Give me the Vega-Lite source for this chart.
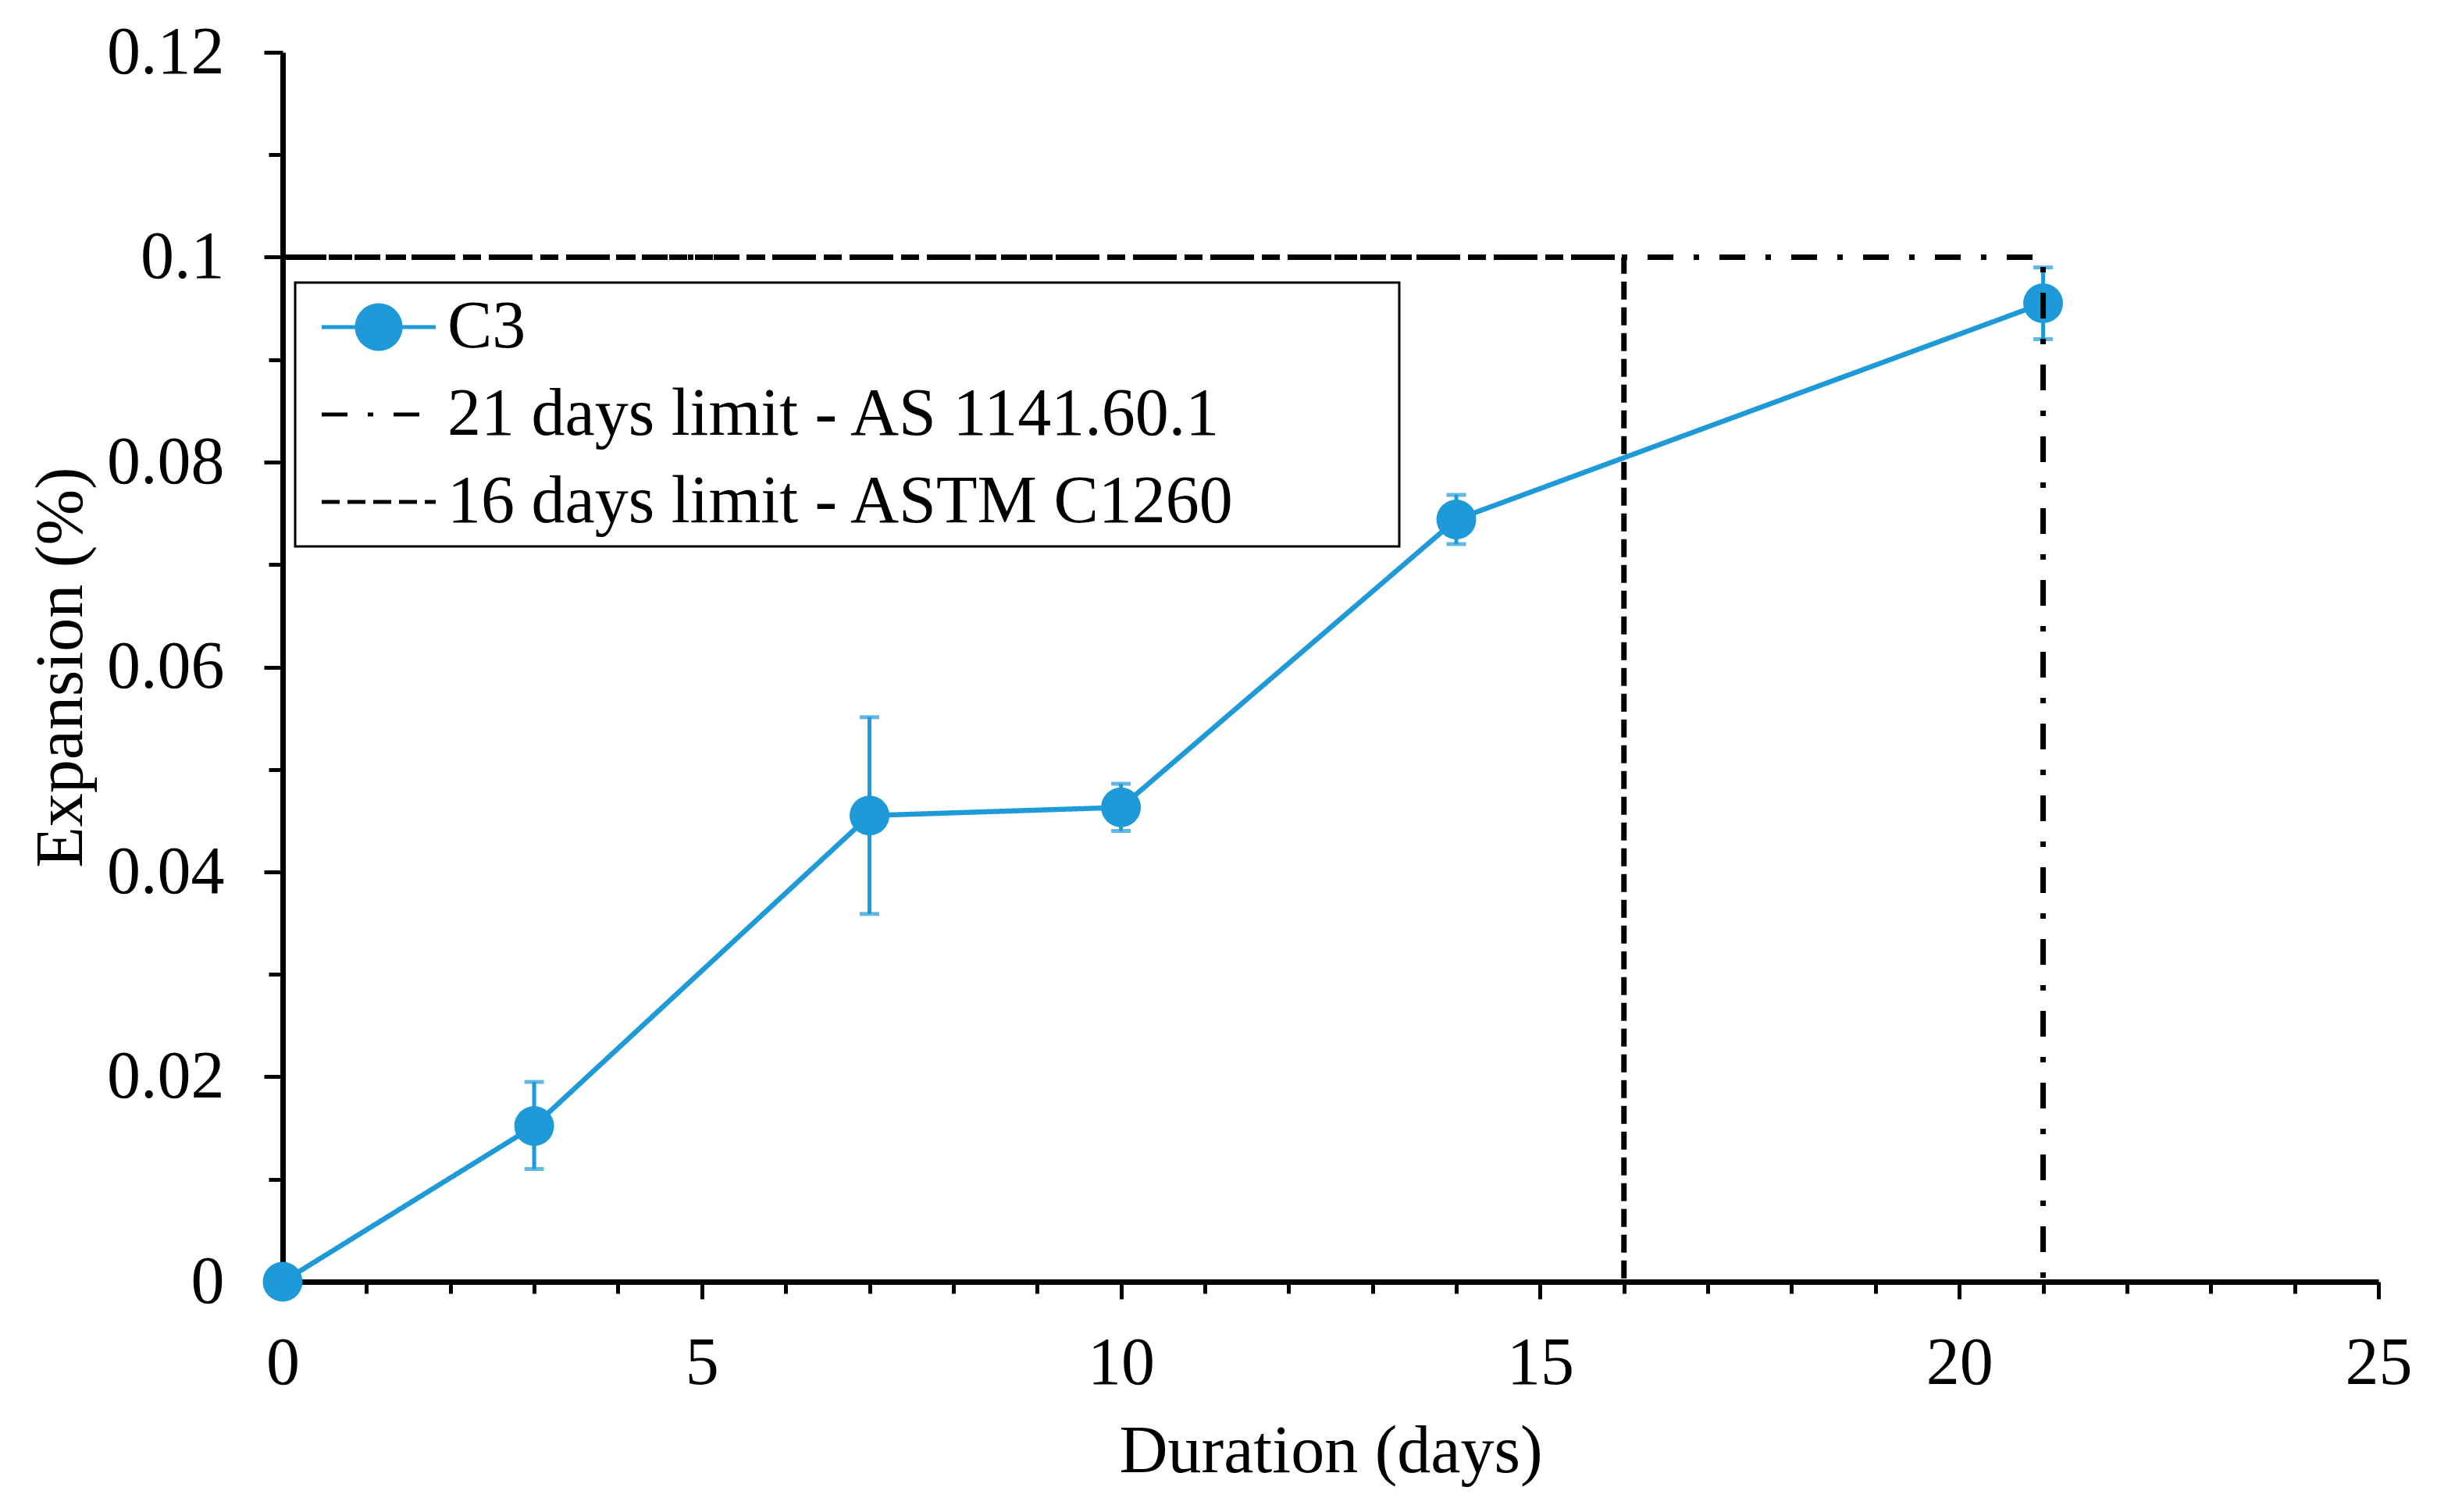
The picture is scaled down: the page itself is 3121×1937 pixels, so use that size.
{
  "$schema": "https://vega.github.io/schema/vega-lite/v6.json",
  "width": 2684,
  "height": 1575,
  "autosize": {"type": "none"},
  "padding": {"left": 362, "top": 67, "right": 75, "bottom": 295},
  "background": "white",
  "config": {
    "view": {"stroke": null},
    "axis": {
      "grid": false,
      "domainColor": "black",
      "domainWidth": 7,
      "tickColor": "black",
      "tickWidth": 5,
      "labelFont": "Liberation Serif",
      "labelFontSize": 86,
      "labelColor": "black",
      "titleFont": "Liberation Serif",
      "titleFontSize": 86,
      "titleFontWeight": "normal",
      "titleColor": "black",
      "labelOverlap": false,
      "labelFlush": false,
      "labelBound": false
    },
    "legend": {
      "orient": "none",
      "legendX": 16,
      "legendY": 295,
      "strokeColor": "black",
      "strokeWidth": 3,
      "fillColor": "white",
      "padding": 14,
      "labelFont": "Liberation Serif",
      "labelFontSize": 86,
      "labelColor": "black",
      "labelLimit": 3000,
      "labelOffset": 45,
      "symbolOffset": 50,
      "symbolSize": 6400,
      "symbolStrokeWidth": 5,
      "symbolType": "M-1.825,0H1.825",
      "rowPadding": 26
    }
  },
  "datasets": {
    "c3": [
      {"day": 0, "exp": 0, "lo": 0, "hi": 0, "series": "C3"},
      {"day": 3, "exp": 0.0152, "lo": 0.0110, "hi": 0.0195, "series": "C3"},
      {"day": 7, "exp": 0.0455, "lo": 0.0359, "hi": 0.0551, "series": "C3"},
      {"day": 10, "exp": 0.0463, "lo": 0.0440, "hi": 0.0486, "series": "C3"},
      {"day": 14, "exp": 0.0744, "lo": 0.0720, "hi": 0.0768, "series": "C3"},
      {"day": 21, "exp": 0.0955, "lo": 0.0920, "hi": 0.0990, "series": "C3"}
    ],
    "limits": [
      {"series": "21 days limit - AS 1141.60.1", "day": 0, "exp": 0.1, "ord": 1},
      {"series": "21 days limit - AS 1141.60.1", "day": 21, "exp": 0.1, "ord": 2},
      {"series": "21 days limit - AS 1141.60.1", "day": 21, "exp": 0, "ord": 3},
      {"series": "16 days limit - ASTM C1260", "day": 0, "exp": 0.1, "ord": 1},
      {"series": "16 days limit - ASTM C1260", "day": 16, "exp": 0.1, "ord": 2},
      {"series": "16 days limit - ASTM C1260", "day": 16, "exp": 0, "ord": 3}
    ]
  },
  "layer": [
    {
      "data": {"name": "c3"},
      "mark": {"type": "line", "strokeWidth": 6.5},
      "encoding": {
        "x": {
          "field": "day", "type": "quantitative", "title": "Duration (days)",
          "scale": {"domain": [0, 25], "nice": false, "zero": false},
          "axis": {
            "values": [0,1,2,3,4,5,6,7,8,9,10,11,12,13,14,15,16,17,18,19,20,21,22,23,24,25],
            "format": "d",
            "labelExpr": "datum.value % 5 === 0 ? datum.label : ''",
            "tickSize": 22,
            "tickDash": {"condition": {"test": "datum.value % 5 === 0", "value": [30, 0]}, "value": [15, 40]},
            "labelPadding": 40,
            "titlePadding": 28
          }
        },
        "y": {
          "field": "exp", "type": "quantitative", "title": "Expansion (%)",
          "scale": {"domain": [0, 0.12], "nice": false},
          "axis": {
            "values": [0,0.01,0.02,0.03,0.04,0.05,0.06,0.07,0.08,0.09,0.1,0.11,0.12],
            "format": "~g",
            "labelExpr": "round(datum.value * 100) % 2 === 0 ? datum.label : ''",
            "tickSize": 24,
            "tickDash": {"condition": {"test": "round(datum.value * 100) % 2 === 0", "value": [30, 0]}, "value": [18, 40]},
            "labelPadding": 51,
            "titlePadding": 40
          }
        },
        "color": {
          "field": "series", "type": "nominal", "title": null,
          "scale": {"domain": ["C3", "21 days limit - AS 1141.60.1", "16 days limit - ASTM C1260"], "range": ["#1E9AD8", "black", "black"]},
          "legend": {
            "labelExpr": "datum.label + '\u00a0\u00a0\u00a0\u00a0\u00a0\u00a0\u00a0\u00a0\u00a0\u200b'",
            "encode": {
              "symbols": {
                "update": {
                  "shape": {"signal": "datum.value === 'C3' ? 'M-1.825,0H1.825M-0.7,0A0.7,0.7 0 1,1 0.7,0A0.7,0.7 0 1,1 -0.7,0Z' : 'M-1.825,0H1.825'"},
                  "fill": {"signal": "datum.value === 'C3' ? '#1E9AD8' : 'transparent'"}
                }
              }
            }
          }
        },
        "strokeDash": {
          "field": "series", "type": "nominal", "title": null,
          "scale": {"domain": ["C3", "21 days limit - AS 1141.60.1", "16 days limit - ASTM C1260"], "range": [[1, 0], [33, 26, 7, 26], [23, 10]]}
        }
      }
    },
    {
      "data": {"name": "c3"},
      "transform": [{"filter": "datum.day > 0"}],
      "mark": {
        "type": "errorbar",
        "color": "#1E9AD8",
        "thickness": 5,
        "ticks": {"size": 25, "thickness": 5, "color": "#1E9AD8"},
        "rule": {"strokeWidth": 5, "color": "#1E9AD8"}
      },
      "encoding": {
        "x": {"field": "day", "type": "quantitative", "title": "Duration (days)"},
        "y": {"field": "lo", "type": "quantitative", "title": "Expansion (%)"},
        "y2": {"field": "hi"}
      }
    },
    {
      "data": {"name": "c3"},
      "mark": {"type": "point", "filled": true, "shape": "circle", "size": 2600, "opacity": 1, "color": "#1E9AD8"},
      "encoding": {
        "x": {"field": "day", "type": "quantitative", "title": "Duration (days)"},
        "y": {"field": "exp", "type": "quantitative", "title": "Expansion (%)"}
      }
    },
    {
      "data": {"name": "limits"},
      "mark": {"type": "line", "strokeWidth": 7},
      "encoding": {
        "x": {"field": "day", "type": "quantitative", "title": "Duration (days)"},
        "y": {"field": "exp", "type": "quantitative", "title": "Expansion (%)"},
        "order": {"field": "ord", "type": "quantitative"},
        "color": {
          "field": "series", "type": "nominal", "title": null,
          "scale": {"domain": ["C3", "21 days limit - AS 1141.60.1", "16 days limit - ASTM C1260"], "range": ["#1E9AD8", "black", "black"]}
        },
        "strokeDash": {
          "field": "series", "type": "nominal", "title": null,
          "scale": {"domain": ["C3", "21 days limit - AS 1141.60.1", "16 days limit - ASTM C1260"], "range": [[1, 0], [33, 26, 7, 26], [23, 10]]}
        }
      }
    }
  ]
}
